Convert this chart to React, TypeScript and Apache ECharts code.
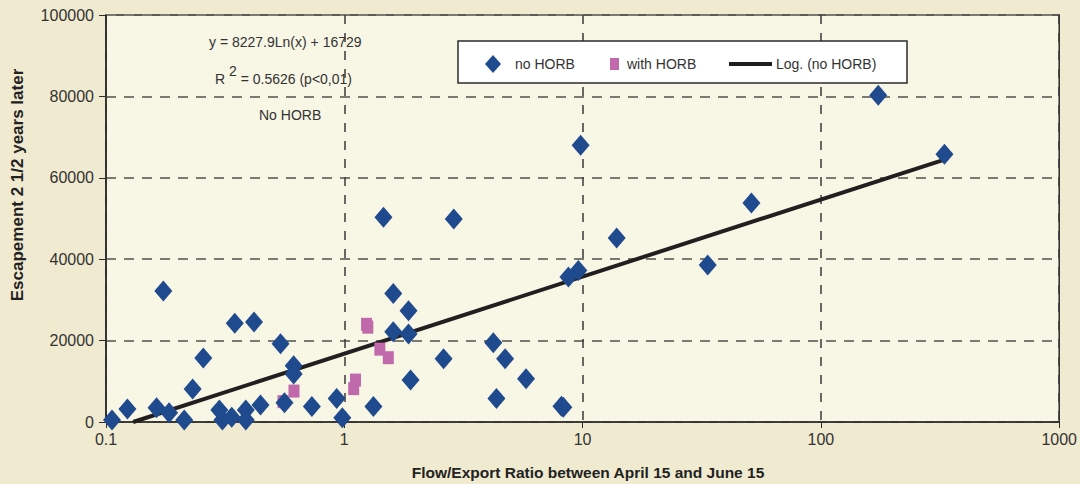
import React, { useEffect, useRef } from "react";
import * as echarts from "echarts";

const xTicks = ["0.1", "1", "10", "100", "1000"];
const yTicks = [0, 20000, 40000, 60000, 80000, 100000];

// no HORB: [flow/export ratio, escapement]
const noHorb: number[][] = [
  [0.106, 500], [0.123, 3200], [0.163, 3500], [0.174, 32200], [0.184, 2300],
  [0.213, 500], [0.231, 8100], [0.256, 15700], [0.299, 2950], [0.308, 500],
  [0.337, 1150], [0.347, 24250], [0.386, 2950], [0.386, 500], [0.418, 24600],
  [0.445, 4200], [0.54, 19200], [0.561, 4700], [0.613, 13800], [0.613, 11800],
  [0.731, 3800], [0.929, 5800], [0.981, 1050], [1.325, 3800], [1.46, 50300],
  [1.605, 31600], [1.605, 22200], [1.86, 27350], [1.86, 21600], [1.897, 10300],
  [2.61, 15550], [2.88, 49900], [4.22, 19500], [4.35, 5800], [4.73, 15550],
  [5.79, 10600], [8.15, 3900], [8.3, 3600], [8.72, 35600], [9.6, 37200],
  [9.81, 68000], [13.9, 45200], [33.5, 38600], [51.1, 53800], [174, 80300],
  [330, 65800],
];

// with HORB
const withHorb: number[][] = [
  [0.553, 5000], [0.615, 7600], [1.095, 8200], [1.114, 10300],
  [1.24, 24000], [1.255, 23300], [1.41, 17900], [1.53, 15800],
];

// Log trend endpoints (no HORB)
const trendLine: number[][] = [
  [0.13, 0],
  [335, 64600],
];

const BLUE = "#204a8e";
const PINK = "#c069ab";

export default function App() {
  const ref = useRef<HTMLDivElement>(null);
  useEffect(() => {
    if (!ref.current) return;
    const chart = echarts.init(ref.current, null, { renderer: "svg" });
    const sans = "'Liberation Sans', Arial, sans-serif";
    chart.setOption({
      animation: false,
      backgroundColor: "#f0ead0",
      textStyle: { fontFamily: sans },
      grid: {
        left: 106,
        right: 14,
        top: 15,
        bottom: 62,
        show: true,
        backgroundColor: "#f8f6e5",
        borderColor: "#2b2b2b",
        borderWidth: 1.5,
      },
      xAxis: {
        type: "log",
        logBase: 10,
        min: 0.1,
        max: 1000,
        axisLine: { show: true, lineStyle: { color: "#2b2b2b", width: 1.5 } },
        axisTick: { show: true, length: 6, lineStyle: { color: "#2b2b2b" } },
        axisLabel: {
          color: "#333",
          fontSize: 16,
          margin: 9,
          formatter: (v: number) => {
            const s = xTicks.find((t) => Math.abs(parseFloat(t) - v) < 1e-6 * Math.max(1, v));
            return s ?? String(v);
          },
        },
        splitLine: {
          show: true,
          lineStyle: { color: "#3a3a3a", type: [9, 9], width: 1.5 },
        },
        minorTick: { show: false },
      },
      yAxis: {
        type: "value",
        min: yTicks[0],
        max: yTicks[yTicks.length - 1],
        interval: 20000,
        axisLine: { show: true, lineStyle: { color: "#2b2b2b", width: 1.5 } },
        axisTick: { show: true, length: 7, lineStyle: { color: "#2b2b2b" } },
        axisLabel: {
          color: "#333",
          fontSize: 16,
          margin: 12,
          formatter: (v: number) => String(v),
        },
        splitLine: {
          show: true,
          lineStyle: { color: "#7a7a72", type: [10, 8], width: 2 },
        },
      },
      series: [
        {
          name: "Log. (no HORB)",
          type: "line",
          data: trendLine,
          symbol: "none",
          lineStyle: { color: "#231f20", width: 4 },
          z: 2,
        },
        {
          name: "with HORB",
          type: "scatter",
          data: withHorb,
          symbol: "rect",
          symbolSize: [11, 13],
          itemStyle: { color: PINK, opacity: 1 },
          z: 3,
        },
        {
          name: "no HORB",
          type: "scatter",
          data: noHorb,
          symbol: "diamond",
          symbolSize: [18, 21],
          itemStyle: { color: BLUE, opacity: 1 },
          z: 4,
        },
      ],
      graphic: [
        {
          type: "text",
          left: 209,
          top: 35,
          style: { text: "y = 8227.9Ln(x) + 16729", fill: "#333", font: "14px " + sans },
        },
        {
          type: "text",
          left: 215,
          top: 64,
          style: {
            text: "{a|R }{s|2}{a| = 0.5626 (p<0,01)}",
            rich: {
              a: { fontSize: 14, fill: "#333", fontFamily: sans, padding: [8, 0, 0, 0] },
              s: { fontSize: 14, fill: "#333", fontFamily: sans, padding: [0, 0, 8, 0] },
            },
          },
        },
        {
          type: "text",
          left: 259,
          top: 108,
          style: { text: "No HORB", fill: "#333", font: "14px " + sans },
        },
        // legend
        {
          type: "rect",
          shape: { x: 458, y: 41, width: 449, height: 42 },
          style: { fill: "#ffffff", stroke: "#2b2b2b", lineWidth: 1.5 },
          z: 10,
        },
        {
          type: "polygon",
          shape: { points: [[493, 55], [501, 64], [493, 73], [485, 64]] },
          style: { fill: BLUE },
          z: 11,
        },
        {
          type: "text",
          x: 515,
          y: 64,
          style: { text: "no HORB", fill: "#333", font: "14px " + sans, verticalAlign: "middle" },
          z: 11,
        },
        {
          type: "rect",
          shape: { x: 610, y: 58, width: 9, height: 12 },
          style: { fill: PINK },
          z: 11,
        },
        {
          type: "text",
          x: 627,
          y: 64,
          style: { text: "with HORB", fill: "#333", font: "14px " + sans, verticalAlign: "middle" },
          z: 11,
        },
        {
          type: "line",
          shape: { x1: 729, y1: 64, x2: 772, y2: 64 },
          style: { stroke: "#231f20", lineWidth: 4 },
          z: 11,
        },
        {
          type: "text",
          x: 776,
          y: 64,
          style: { text: "Log. (no HORB)", fill: "#333", font: "14px " + sans, verticalAlign: "middle" },
          z: 11,
        },
        // axis titles
        {
          type: "text",
          x: 588,
          y: 472,
          style: {
            text: "Flow/Export Ratio between April 15 and June 15",
            fill: "#222",
            font: "bold 15.5px " + sans,
            align: "center",
            verticalAlign: "middle",
          },
        },
        {
          type: "text",
          x: 17,
          y: 185,
          rotation: Math.PI / 2,
          style: {
            text: "Escapement 2 1/2 years later",
            fill: "#222",
            font: "bold 17px " + sans,
            align: "center",
            verticalAlign: "middle",
          },
        },
      ],
    });
    return () => chart.dispose();
  }, []);
  return (
    <div
      ref={ref}
      style={{ position: "fixed", left: 0, top: 0, width: 1080, height: 484 }}
    />
  );
}
